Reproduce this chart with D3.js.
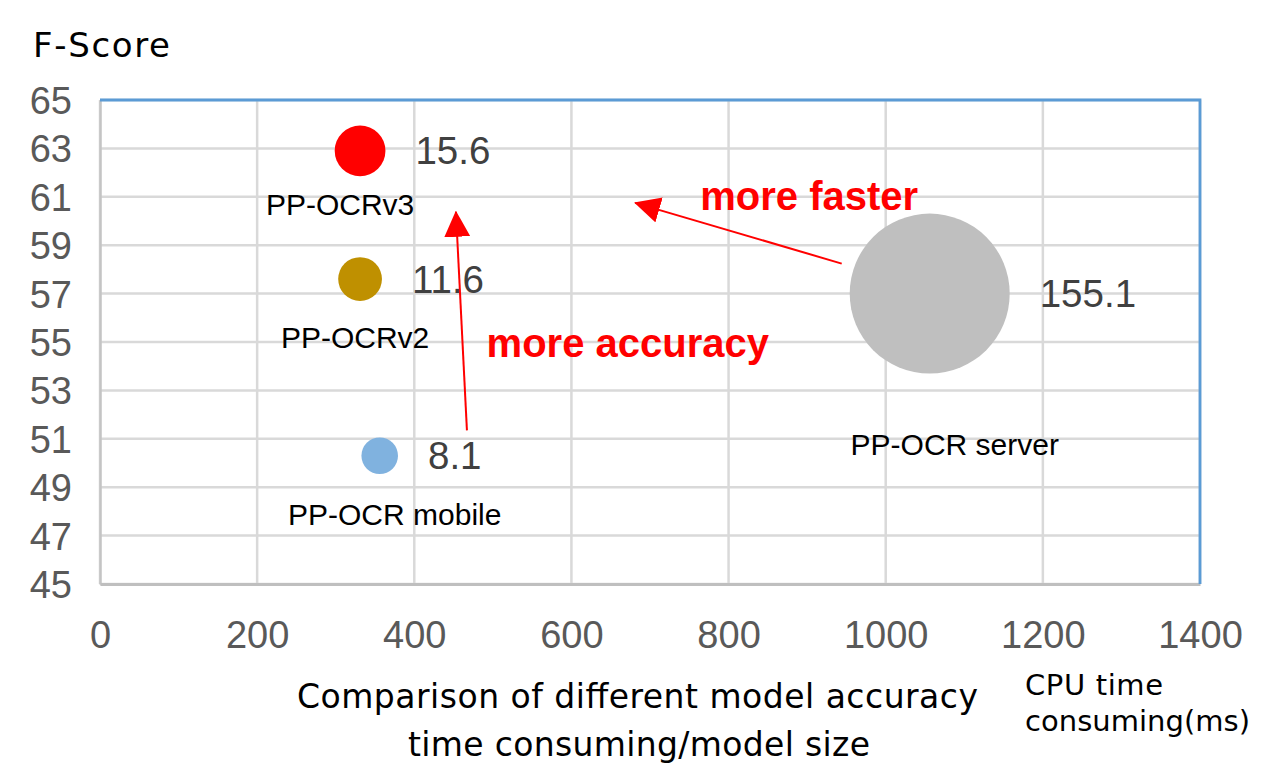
<!DOCTYPE html>
<html>
<head>
<meta charset="utf-8">
<script src="https://cdn.jsdelivr.net/npm/d3@7"></script>
<style>
  html, body { margin: 0; padding: 0; background: #ffffff; }
  svg { display: block; }
</style>
</head>
<body>
<svg id="chart" width="1280" height="784"></svg>
<script>
// ---- Data ----
const models = ["PP-OCRv3", "PP-OCRv2", "PP-OCR mobile", "PP-OCR server"];
const cpuTime = [331, 331, 356, 1056];        // ms
const fScore = [62.9, 57.6, 50.3, 57.0];
const modelSize = [15.6, 11.6, 8.1, 155.1];   // MB (bubble size)
const bubbleColors = ["#ff0000", "#bf9000", "#80b2df", "#bfbfbf"];
const xTicks = [0, 200, 400, 600, 800, 1000, 1200, 1400];
const yTicks = [45, 47, 49, 51, 53, 55, 57, 59, 61, 63, 65];

// annotation arrows (data units: [cpuTime, fScore])
const arrowStarts = [[467, 51.35], [944, 58.24]];
const arrowEnds   = [[453, 60.38], [681, 60.75]];
const annotationTexts = ["more accuracy", "more faster"];
const annotationAt = [[492, 54.4], [764, 60.46]];

// ---- Layout ----
const nameLabelOffsets = [[-20, 64], [-5, 69], [15, 69], [25, 161]];
const plot = { left: 100, right: 1200, top: 100, bottom: 584 };

const svg = d3.select("#chart");
const x = d3.scaleLinear().domain([0, 1400]).range([plot.left, plot.right]);
const y = d3.scaleLinear().domain([45, 65]).range([plot.bottom, plot.top]);
const r = d3.scaleSqrt().domain([0, 155.1]).range([0, 80]);

const sans = "'Liberation Sans', Arial, Helvetica, sans-serif";
const wide = "'DejaVu Sans', 'Liberation Sans', sans-serif";

// gridlines
const grid = svg.append("g");
grid.selectAll("line.h").data(yTicks).join("line")
  .attr("x1", plot.left).attr("x2", plot.right)
  .attr("y1", d => y(d)).attr("y2", d => y(d))
  .attr("stroke", "#d9d9d9").attr("stroke-width", 2.5);
grid.selectAll("line.v").data(xTicks).join("line")
  .attr("x1", d => x(d)).attr("x2", d => x(d))
  .attr("y1", plot.top).attr("y2", plot.bottom)
  .attr("stroke", "#d9d9d9").attr("stroke-width", 2.5);

// axes via d3
const yAxis = svg.append("g")
  .attr("transform", `translate(${plot.left},0)`)
  .call(d3.axisLeft(y).tickValues(yTicks).tickSize(0).tickPadding(28).tickFormat(d3.format("d")));
yAxis.select(".domain").attr("stroke", "#c4c4c4").attr("stroke-width", 2.5);
yAxis.selectAll("text").attr("font-family", sans).attr("font-size", 38).attr("fill", "#595959")
  .attr("dy", "0.355em");

const xAxis = svg.append("g")
  .attr("transform", `translate(0,${plot.bottom})`)
  .call(d3.axisBottom(x).tickValues(xTicks).tickSize(0).tickPadding(37).tickFormat(d3.format("d")));
xAxis.select(".domain").attr("stroke", "#bfbfbf").attr("stroke-width", 3);
xAxis.selectAll("text").attr("font-family", sans).attr("font-size", 38).attr("fill", "#595959")
  .attr("dy", "0.71em");

// top and right border (blue)
svg.append("path")
  .attr("d", `M${plot.left},${plot.top} H${plot.right} V${plot.bottom}`)
  .attr("fill", "none").attr("stroke", "#5b9bd5").attr("stroke-width", 2.8);

// bubbles
const idx = d3.range(models.length);
svg.append("g").selectAll("circle").data(idx).join("circle")
  .attr("cx", i => x(cpuTime[i])).attr("cy", i => y(fScore[i]))
  .attr("r", i => r(modelSize[i]))
  .attr("fill", i => bubbleColors[i]);

// value labels
svg.append("g").selectAll("text").data(idx).join("text")
  .attr("x", i => x(cpuTime[i]) + r(modelSize[i]) + 30)
  .attr("y", i => y(fScore[i]) + 13.5)
  .attr("font-family", sans).attr("font-size", 38.5).attr("fill", "#404040")
  .text(i => modelSize[i]);

// name labels
svg.append("g").selectAll("text").data(idx).join("text")
  .attr("x", i => x(cpuTime[i]) + nameLabelOffsets[i][0])
  .attr("y", i => y(fScore[i]) + nameLabelOffsets[i][1])
  .attr("text-anchor", "middle")
  .attr("font-family", sans).attr("font-size", 30).attr("fill", "#000")
  .text(i => models[i]);

// arrows
const defs = svg.append("defs");
defs.append("marker")
  .attr("id", "ah").attr("markerUnits", "userSpaceOnUse")
  .attr("viewBox", "0 0 26 26").attr("refX", 25).attr("refY", 13)
  .attr("markerWidth", 26).attr("markerHeight", 26).attr("orient", "auto")
  .append("path").attr("d", "M0,0 L26,13 L0,26 Z").attr("fill", "#ff0000");

svg.append("g").selectAll("line").data(d3.range(arrowStarts.length)).join("line")
  .attr("x1", i => x(arrowStarts[i][0])).attr("y1", i => y(arrowStarts[i][1]))
  .attr("x2", i => x(arrowEnds[i][0])).attr("y2", i => y(arrowEnds[i][1]))
  .attr("stroke", "#ff0000").attr("stroke-width", 2)
  .attr("marker-end", "url(#ah)");

svg.append("g").selectAll("text").data(d3.range(annotationTexts.length)).join("text")
  .attr("x", i => x(annotationAt[i][0])).attr("y", i => y(annotationAt[i][1]))
  .attr("font-family", sans).attr("font-size", 40).attr("font-weight", "bold")
  .attr("fill", "#ff0000")
  .text(i => annotationTexts[i]);

// titles
svg.append("text").attr("x", 33).attr("y", 57)
  .attr("font-family", wide).attr("font-size", 34).attr("fill", "#000")
  .attr("textLength", 137).attr("lengthAdjust", "spacing")
  .text("F-Score");

svg.append("text").attr("x", 297).attr("y", 708)
  .attr("font-family", wide).attr("font-size", 33).attr("fill", "#000")
  .attr("textLength", 681).attr("lengthAdjust", "spacing")
  .text("Comparison of different model accuracy");
svg.append("text").attr("x", 408).attr("y", 756)
  .attr("font-family", wide).attr("font-size", 33).attr("fill", "#000")
  .attr("textLength", 462).attr("lengthAdjust", "spacing")
  .text("time consuming/model size");

svg.append("text").attr("x", 1025).attr("y", 695)
  .attr("font-family", wide).attr("font-size", 29).attr("fill", "#000")
  .attr("textLength", 138).attr("lengthAdjust", "spacing")
  .text("CPU time");
svg.append("text").attr("x", 1025).attr("y", 731)
  .attr("font-family", wide).attr("font-size", 29).attr("fill", "#000")
  .attr("textLength", 225).attr("lengthAdjust", "spacing")
  .text("consuming(ms)");
</script>
</body>
</html>
